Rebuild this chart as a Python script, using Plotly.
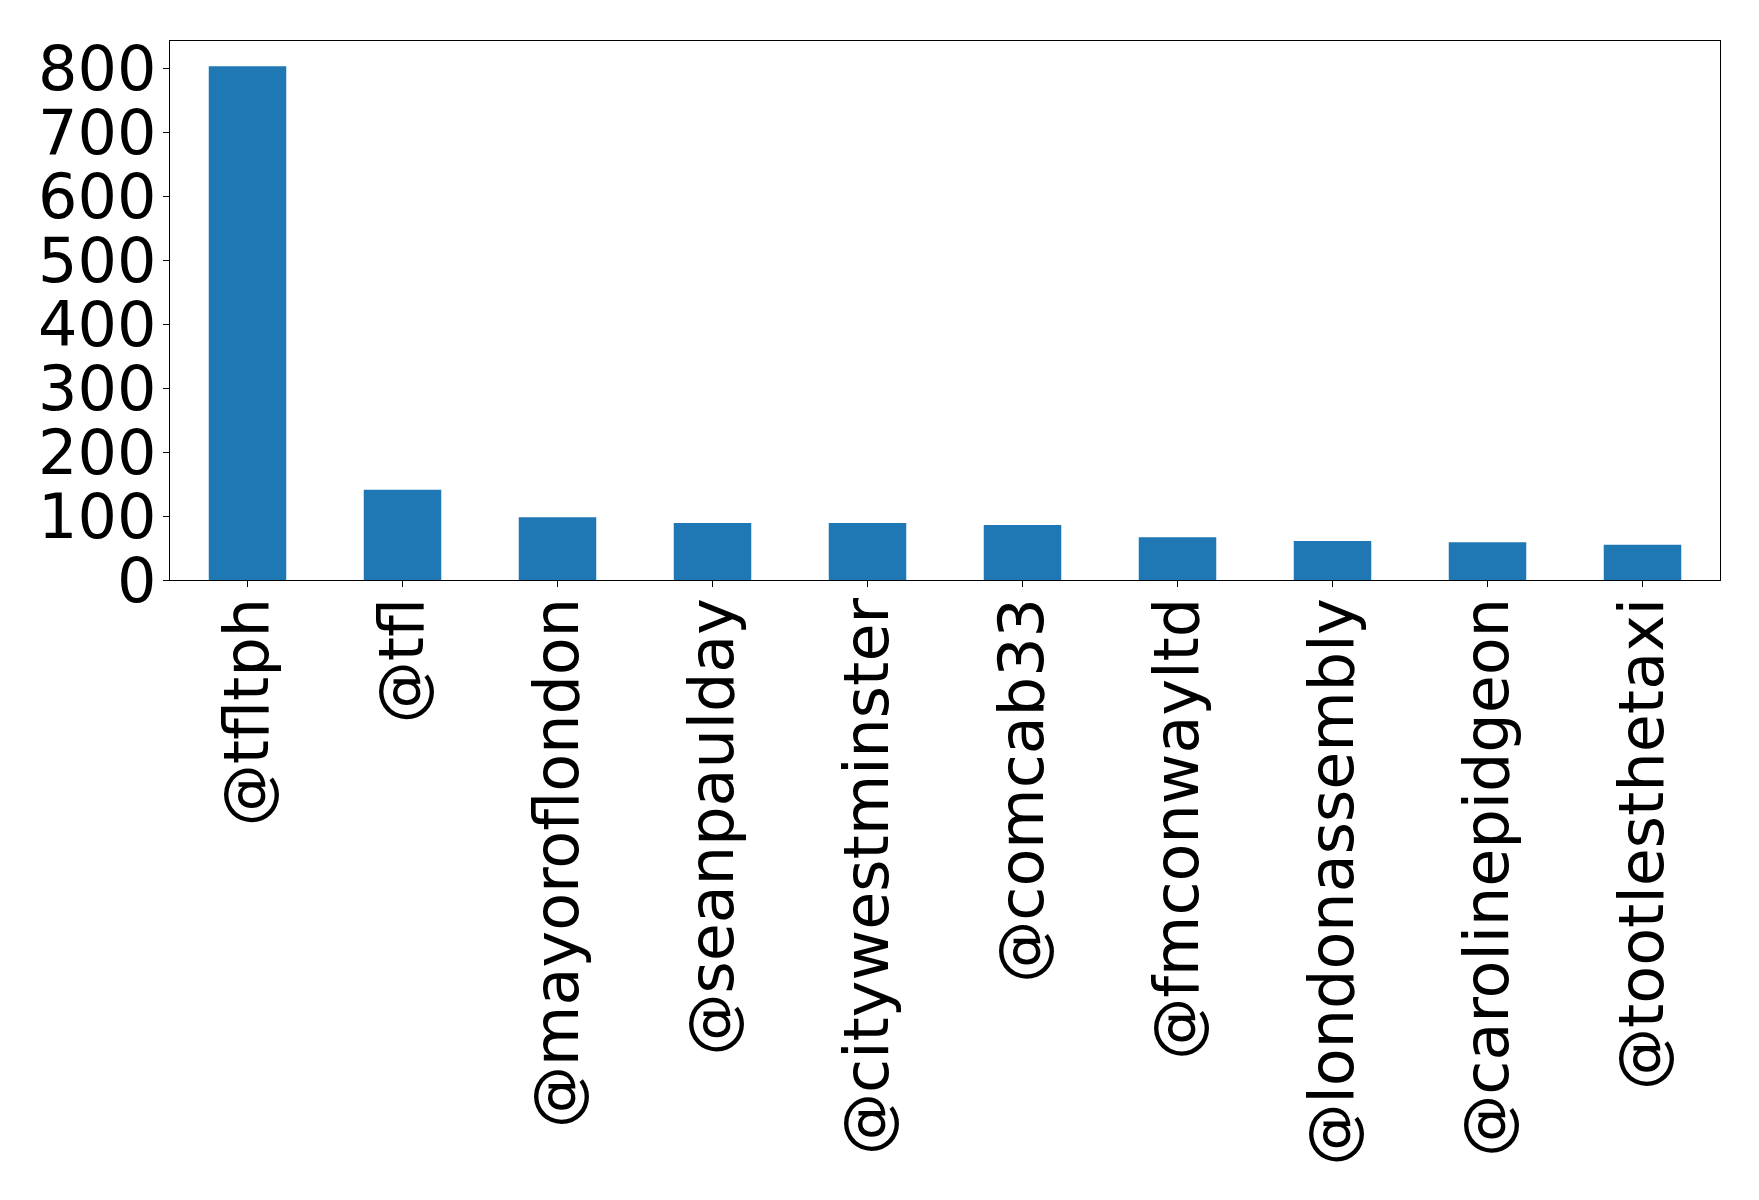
import plotly.graph_objects as go

handles = ["@tfltph", "@tfl", "@mayoroflondon", "@seanpaulday", "@citywestminster",
           "@comcab33", "@fmconwayltd", "@londonassembly", "@carolinepidgeon", "@tootlesthetaxi"]
counts = [803, 141, 98, 89, 89, 86, 67, 61, 59, 55]
y_ticks = [0, 100, 200, 300, 400, 500, 600, 700, 800]

font = dict(family="DejaVu Sans", size=62, color="black")

fig = go.Figure(go.Bar(x=handles, y=counts, width=0.5, marker=dict(color="#1f77b4", line=dict(width=0))))

fig.update_layout(
    width=1759, height=1200,
    margin=dict(l=162, r=47, t=33, b=628),
    plot_bgcolor="white", paper_bgcolor="white",
    showlegend=False, font=font,
)
fig.update_xaxes(
    range=[-0.5, 9.5], tickangle=-90, showline=True, linecolor="black", linewidth=1.3,
    mirror=True, ticks="outside", ticklen=6, tickcolor="black", showgrid=False,
    tickfont=font, ticklabelstandoff=-14,
)
fig.update_yaxes(
    range=[0, 842.6], tickvals=y_ticks, showline=True, linecolor="black", linewidth=1.3,
    mirror=True, ticks="outside", ticklen=6, tickcolor="black", showgrid=False,
    zeroline=False, tickfont=font, ticklabelstandoff=-6,
)

fig.write_html("out.html")
